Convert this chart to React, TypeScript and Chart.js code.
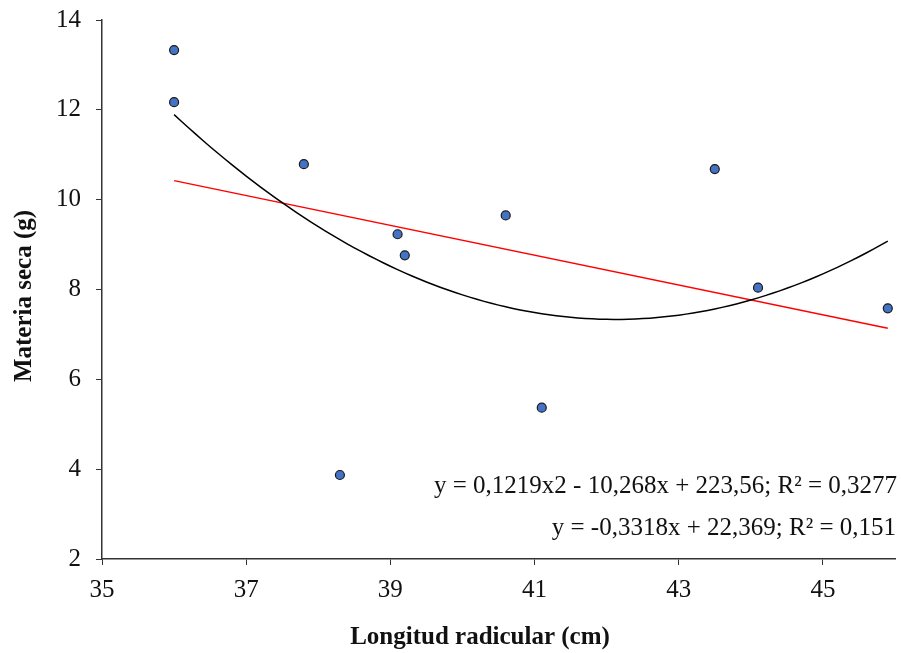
import React, { useEffect, useRef } from "react";
import { Chart, registerables } from "chart.js";

Chart.register(...registerables);

// Data
const longitud = [36.0, 36.0, 37.8, 38.3, 39.1, 39.2, 40.6, 41.1, 43.5, 44.1, 45.9];
const materiaSeca = [13.33, 12.17, 10.79, 3.87, 9.23, 8.76, 9.65, 5.37, 10.68, 8.04, 7.58];

// Trend line coefficients as printed on the chart
const quadCoef = [0.1219, -10.268, 223.56];
const linCoef = [-0.3318, 22.369];
const trendRange = [36.0, 45.9];

// Tick labels
const xTickValues = [35, 37, 39, 41, 43, 45];
const yTickValues = [2, 4, 6, 8, 10, 12, 14];

const eqQuad = "y = 0,1219x2 - 10,268x + 223,56; R² = 0,3277";
const eqLin = "y = -0,3318x + 22,369; R² = 0,151";

const xTitle = "Longitud radicular (cm)";
const yTitle = "Materia seca (g)";

const SERIF = "'Liberation Serif', 'Times New Roman', serif";

export default function App() {
  const ref = useRef<HTMLCanvasElement | null>(null);

  useEffect(() => {
    if (!ref.current) return;
    const [a, b, c] = quadCoef;
    const quad: { x: number; y: number }[] = [];
    for (let i = 0; i <= 99; i++) {
      const x = trendRange[0] + (trendRange[1] - trendRange[0]) * (i / 99);
      quad.push({ x, y: a * x * x + b * x + c });
    }
    const lin = trendRange.map((x) => ({ x, y: linCoef[0] * x + linCoef[1] }));
    const pts = longitud.map((x, i) => ({ x, y: materiaSeca[i] }));

    const textPlugin = {
      id: "texts",
      afterDraw(chart: any) {
        const ctx = chart.ctx;
        const ca = chart.chartArea;
        ctx.save();
        ctx.fillStyle = "#111";
        ctx.font = `25px ${SERIF}`;
        ctx.textAlign = "right";
        ctx.textBaseline = "middle";
        ctx.fillText(eqQuad, ca.right + 2, 486);
        ctx.fillText(eqLin, ca.right + 1, 528);
        ctx.font = `bold 25px ${SERIF}`;
        ctx.textAlign = "center";
        ctx.fillText(xTitle, 480, 638);
        ctx.translate(25, 296);
        ctx.rotate(-Math.PI / 2);
        ctx.fillText(yTitle, 0, 0);
        ctx.restore();
      },
    };

    const chart = new Chart(ref.current, {
      type: "scatter",
      data: {
        datasets: [
          {
            label: "Quad",
            data: quad,
            showLine: true,
            borderColor: "#000000",
            borderWidth: 1.5,
            pointRadius: 0,
            fill: false,
            tension: 0,
          },
          {
            label: "Lin",
            data: lin,
            showLine: true,
            borderColor: "#ff0000",
            borderWidth: 1.5,
            pointRadius: 0,
            fill: false,
          },
          {
            label: "Datos",
            data: pts,
            backgroundColor: "#4472C4",
            borderColor: "#1a1a1a",
            borderWidth: 1.2,
            pointRadius: 4.5,
          },
        ],
      },
      options: {
        animation: false,
        responsive: false,
        layout: { padding: { left: 0, top: 20, right: 6, bottom: 0 } },
        plugins: { legend: { display: false }, tooltip: { enabled: false } },
        scales: {
          x: {
            type: "linear",
            min: 35,
            max: 46,
            afterBuildTicks: (s: any) => {
              s.ticks = xTickValues.map((v) => ({ value: v }));
            },
            afterFit: (s: any) => {
              s.height = 94;
              s.paddingLeft = 0;
              s.paddingRight = 0;
            },
            ticks: {
              color: "#111",
              font: { family: SERIF, size: 25 },
              padding: 10,
              maxRotation: 0,
            },
            grid: { drawOnChartArea: false, drawTicks: true, tickLength: 6, color: "#333" },
            border: { display: true, color: "#333", width: 1.5 },
          },
          y: {
            type: "linear",
            min: 2,
            max: 14,
            afterBuildTicks: (s: any) => {
              s.ticks = yTickValues.map((v) => ({ value: v }));
            },
            afterFit: (s: any) => {
              s.width = 102;
              s.paddingTop = 0;
              s.paddingBottom = 0;
            },
            ticks: {
              color: "#111",
              font: { family: SERIF, size: 25 },
              padding: 15,
            },
            grid: { drawOnChartArea: false, drawTicks: true, tickLength: 6, color: "#333" },
            border: { display: true, color: "#333", width: 1.5 },
          },
        },
      },
      plugins: [textPlugin],
    });
    return () => chart.destroy();
  }, []);

  return (
    <div style={{ position: "fixed", left: 0, top: 0, width: 901, height: 653, background: "#fff" }}>
      <canvas ref={ref} width={901} height={653} style={{ width: 901, height: 653 }} />
    </div>
  );
}
